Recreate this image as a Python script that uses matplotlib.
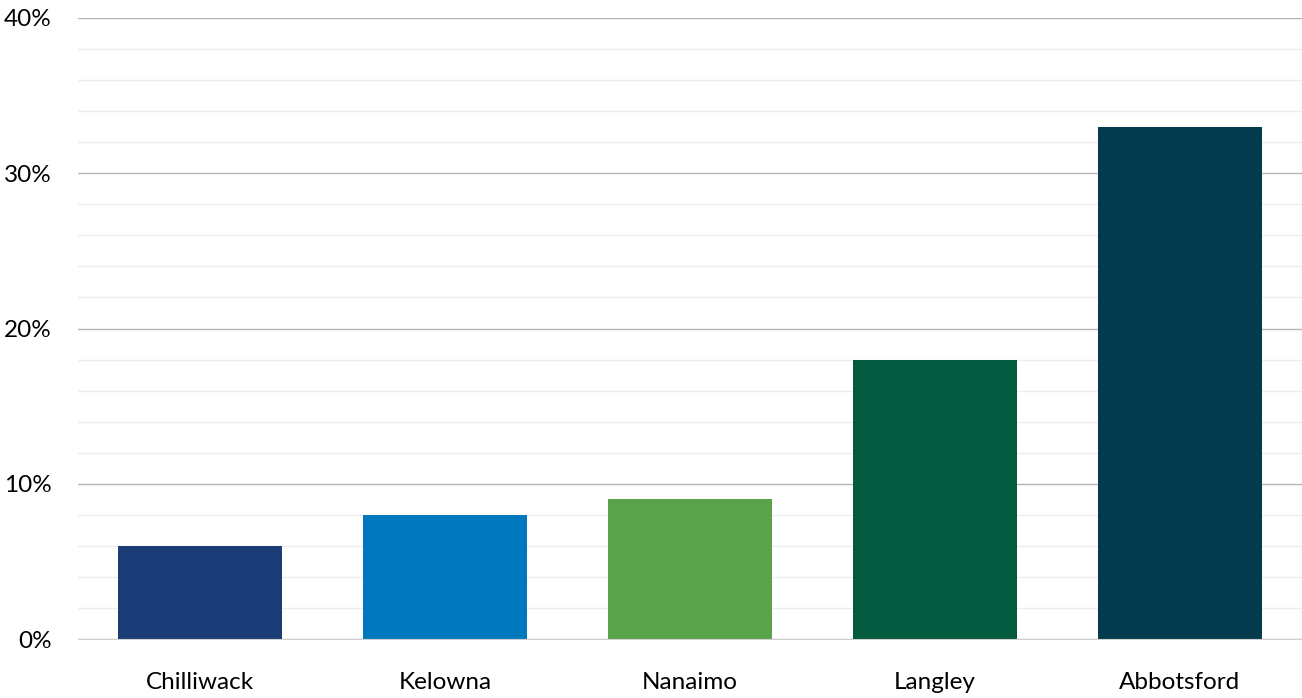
import numpy as np
import matplotlib.pyplot as plt
from matplotlib.ticker import MultipleLocator, FuncFormatter

cities = ['Chilliwack', 'Kelowna', 'Nanaimo', 'Langley', 'Abbotsford']
share = [6, 8, 9, 18, 33]
bar_colors = ['#1c3c78', '#0078be', '#5ba34b', '#045c40', '#033a4e']

plt.rcParams['font.family'] = ['Lato', 'DejaVu Sans']

fig = plt.figure(figsize=(13.02, 6.98), dpi=100)
ax = fig.add_axes([78/1302, 1 - 639/698, 1 - 78/1302, (639 - 18)/698])

x = np.arange(len(cities))
ax.bar(x, share, width=0.67, color=bar_colors, zorder=3)

ax.set_xlim(-0.5, len(cities) - 0.5)
ax.set_ylim(0, 40)
ax.yaxis.set_major_locator(MultipleLocator(10))
ax.yaxis.set_minor_locator(MultipleLocator(2))
ax.yaxis.set_major_formatter(FuncFormatter(lambda v, p: f'{v:.0f}%'))
ax.grid(axis='y', which='major', color='#b3b3b3', lw=1, zorder=1)
ax.grid(axis='y', which='minor', color='#ededed', lw=1, zorder=1)

ax.set_xticks(x)
ax.set_xticklabels(cities)
ax.tick_params(axis='both', which='both', length=0, labelsize=17.5, colors='black')
ax.tick_params(axis='x', pad=24)
ax.tick_params(axis='y', pad=19)

for s in ['top', 'right', 'left']:
    ax.spines[s].set_visible(False)
ax.spines['bottom'].set_color('#d0d0d0')
ax.spines['bottom'].set_zorder(4)

fig.savefig('out.png', dpi=100)
